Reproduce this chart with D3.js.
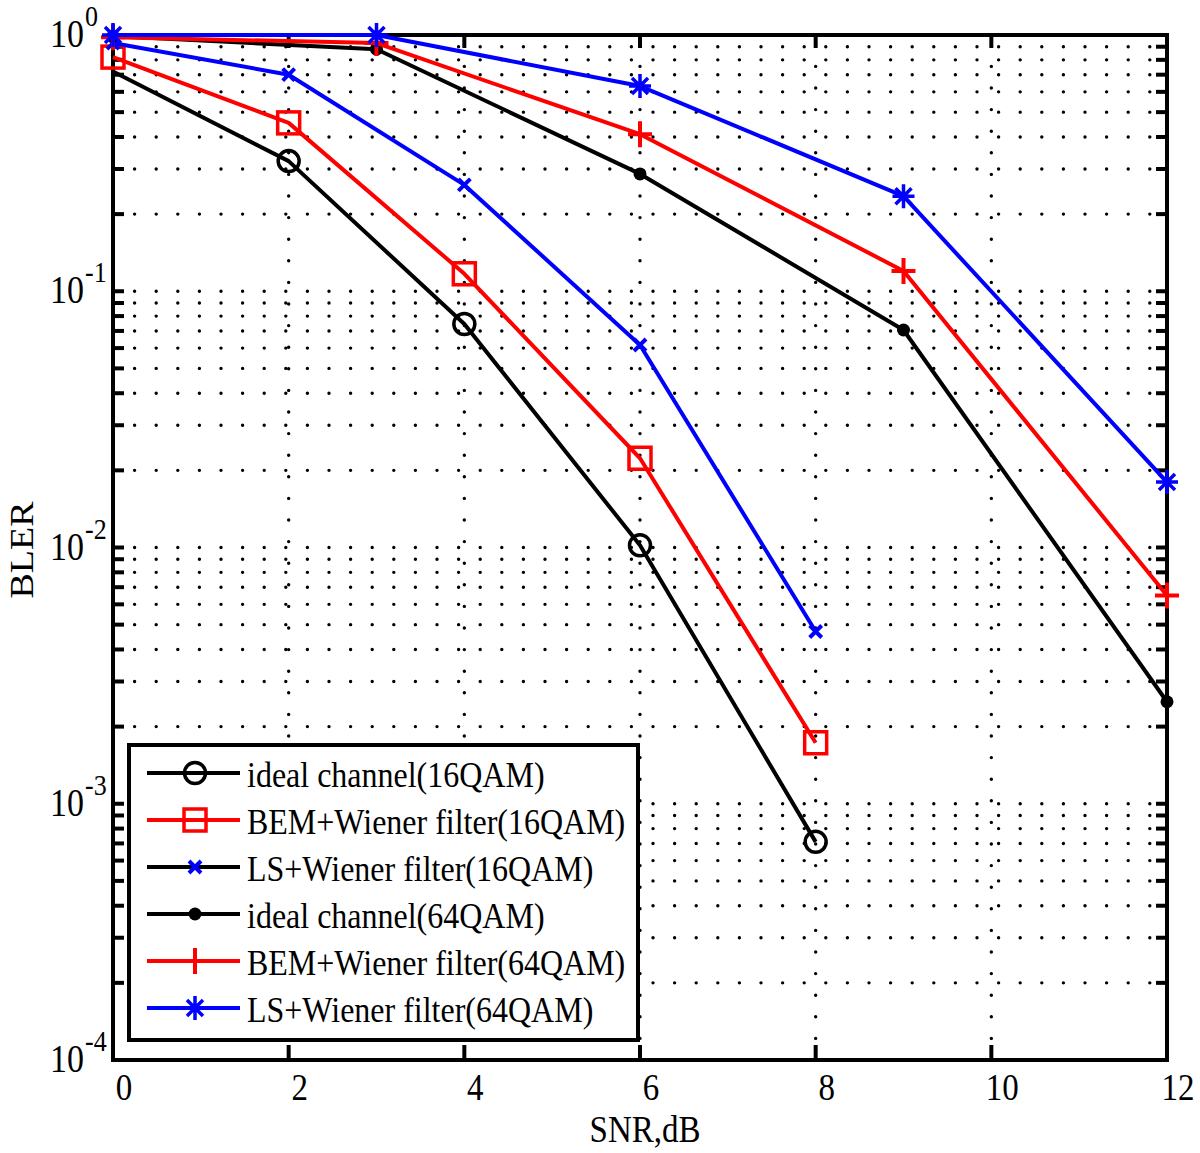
<!DOCTYPE html>
<html>
<head>
<meta charset="utf-8">
<script src="https://cdn.jsdelivr.net/npm/d3@7"></script>
<style>
  html, body { margin: 0; padding: 0; background: #fff; }
  svg { display: block; }
  text { font-family: 'Liberation Serif', 'Times New Roman', serif; fill: #000; }
</style>
</head>
<body>
<svg id="chart" width="1200" height="1153"></svg>
<script>
'use strict';

// data
var snr16 = [0, 2, 4, 6, 8];
var snr64 = [0, 3, 6, 9, 12];
var ideal16 = [0.72, 0.322, 0.0745, 0.0102, 0.00071];
var bem16 = [0.82, 0.454, 0.117, 0.0223, 0.00173];
var ls16 = [0.93, 0.70, 0.26, 0.0617, 0.0047];
var ideal64 = [0.99, 0.88, 0.287, 0.0706, 0.0025];
var bem64 = [0.98, 0.93, 0.41, 0.12, 0.0065];
var ls64 = [1.0, 1.0, 0.632, 0.235, 0.018];
var xTicks = [0, 2, 4, 6, 8, 10, 12];
var yExponents = [0, -1, -2, -3, -4];
var names = ['ideal channel(16QAM)', 'BEM+Wiener filter(16QAM)', 'LS+Wiener filter(16QAM)',
             'ideal channel(64QAM)', 'BEM+Wiener filter(64QAM)', 'LS+Wiener filter(64QAM)'];

var MARGIN = { LEFT: 113, RIGHT: 1167, TOP: 35, BOTTOM: 1060 };
var SY = 1.15;   // glyphs in the picture are a bit taller than wide
var FONT = 33;

var series = [
    { name: names[0], x: snr16, y: ideal16, color: '#000', marker: 'circle', firstMarker: 1 },
    { name: names[1], x: snr16, y: bem16, color: '#f00', marker: 'square' },
    { name: names[2], x: snr16, y: ls16, color: '#00f', marker: 'x', legendLine: '#000' },
    { name: names[3], x: snr64, y: ideal64, color: '#000', marker: 'dot' },
    { name: names[4], x: snr64, y: bem64, color: '#f00', marker: 'plus' },
    { name: names[5], x: snr64, y: ls64, color: '#00f', marker: 'star' }
];

var x = d3.scaleLinear().domain([0, 12]).range([MARGIN.LEFT, MARGIN.RIGHT]);
var y = d3.scaleLog().domain([1e-4, 1]).range([MARGIN.BOTTOM, MARGIN.TOP]);

var svg = d3.select('#chart');

function stext(g, px, py, str, size, anchor) {
    return g.append('text')
        .attr('transform', 'translate(' + px + ',' + py + ') scale(1,' + SY + ')')
        .style('font-size', size + 'px')
        .style('text-anchor', anchor || 'start')
        .text(str);
}

// minor + major log ticks
var yAll = [];
yExponents.forEach(function (e) {
    if (e === -4) { yAll.push(1e-4); return; }
    for (var k = 1; k <= 9; k++) yAll.push(k * Math.pow(10, e - 1));
});
yAll.push(1);
yAll = yAll.filter(function (v, i, a) { return a.indexOf(v) === i && v >= 1e-4 && v <= 1; });

// dotted grid
var grid = svg.append('g')
    .attr('stroke', '#000')
    .attr('stroke-width', 3.4)
    .attr('stroke-linecap', 'round')
    .attr('stroke-dasharray', '0 21.6');

grid.selectAll('line.h')
    .data(yAll.filter(function (v) { return v > 1e-4 && v < 1; }))
    .enter()
    .append('line')
    .attr('x1', MARGIN.LEFT).attr('x2', MARGIN.RIGHT)
    .attr('y1', function (d) { return y(d); })
    .attr('y2', function (d) { return y(d); });

grid.selectAll('line.v')
    .data(xTicks.filter(function (v) { return v > 0 && v < 12; }))
    .enter()
    .append('line')
    .attr('y1', MARGIN.BOTTOM).attr('y2', MARGIN.TOP)
    .attr('x1', function (d) { return x(d); })
    .attr('x2', function (d) { return x(d); });

// axes box and ticks
var axes = svg.append('g').attr('stroke', '#000').attr('stroke-width', 4);

axes.append('rect')
    .attr('x', MARGIN.LEFT).attr('y', MARGIN.TOP)
    .attr('width', MARGIN.RIGHT - MARGIN.LEFT)
    .attr('height', MARGIN.BOTTOM - MARGIN.TOP)
    .attr('fill', 'none');

yAll.forEach(function (v) {
    axes.append('line')
        .attr('x1', MARGIN.LEFT).attr('x2', MARGIN.LEFT + 11)
        .attr('y1', y(v)).attr('y2', y(v));
    axes.append('line')
        .attr('x1', MARGIN.RIGHT).attr('x2', MARGIN.RIGHT - 11)
        .attr('y1', y(v)).attr('y2', y(v));
});

xTicks.forEach(function (v) {
    axes.append('line')
        .attr('x1', x(v)).attr('x2', x(v))
        .attr('y1', MARGIN.BOTTOM).attr('y2', MARGIN.BOTTOM - 15);
    axes.append('line')
        .attr('x1', x(v)).attr('x2', x(v))
        .attr('y1', MARGIN.TOP).attr('y2', MARGIN.TOP + 13);
});

// tick labels
var labels = svg.append('g');
xTicks.forEach(function (v) {
    stext(labels, x(v) + 11, 1100, String(v), FONT, 'middle');
});
yExponents.forEach(function (e) {
    var py = y(Math.pow(10, e));
    stext(labels, 84, py + 12, '10', 34, 'end');
    stext(labels, 85, py - 9, String(e), 26, 'start');
});

stext(labels, 645, 1142, 'SNR,dB', FONT, 'middle');
labels.append('text')
    .attr('transform', 'translate(33,550) rotate(-90) scale(' + SY + ',1)')
    .style('font-size', FONT + 'px')
    .style('text-anchor', 'middle')
    .text('BLER');

// markers
function drawMarker(g, type, color) {
    if (type === 'circle') {
        g.append('circle').attr('r', 10.5).attr('fill', 'none')
            .attr('stroke', color).attr('stroke-width', 3.5);
    } else if (type === 'square') {
        g.append('rect').attr('x', -11).attr('y', -11).attr('width', 22).attr('height', 22)
            .attr('fill', 'none').attr('stroke', color).attr('stroke-width', 3.5);
    } else if (type === 'x') {
        g.append('path').attr('d', 'M-6,-6L6,6M-6,6L6,-6')
            .attr('stroke', color).attr('stroke-width', 4);
    } else if (type === 'dot') {
        g.append('circle').attr('r', 6.5).attr('fill', color);
    } else if (type === 'plus') {
        g.append('path').attr('d', 'M-12,0H12M0,-13V13')
            .attr('stroke', color).attr('stroke-width', 4);
    } else if (type === 'star') {
        g.append('path').attr('d', 'M-11,0H11M0,-12V12M-8,-8L8,8M-8,8L8,-8')
            .attr('stroke', color).attr('stroke-width', 3.5);
    }
}

var line = d3.line()
    .x(function (d) { return x(d[0]); })
    .y(function (d) { return y(d[1]); });

var plot = svg.append('g');
series.forEach(function (s) {
    var pts = s.x.map(function (v, i) { return [v, s.y[i]]; });
    var g = plot.append('g');
    g.append('path')
        .attr('d', line(pts))
        .attr('fill', 'none')
        .attr('stroke', s.color)
        .attr('stroke-width', 4)
        .attr('stroke-linejoin', 'round');
    pts.forEach(function (p, i) {
        if (i < (s.firstMarker || 0)) return;
        var m = g.append('g').attr('transform', 'translate(' + x(p[0]) + ',' + y(p[1]) + ')');
        drawMarker(m, s.marker, s.color);
    });
});

// legend
var LEG = { X: 129, Y: 745, W: 509, H: 295, ROW0: 773, STEP: 47 };
var legend = svg.append('g');
legend.append('rect')
    .attr('x', LEG.X).attr('y', LEG.Y)
    .attr('width', LEG.W).attr('height', LEG.H)
    .attr('fill', '#fff').attr('stroke', '#000').attr('stroke-width', 4);

series.forEach(function (s, i) {
    var cy = LEG.ROW0 + i * LEG.STEP;
    legend.append('line')
        .attr('x1', 147).attr('x2', 240)
        .attr('y1', cy).attr('y2', cy)
        .attr('stroke', s.legendLine || s.color)
        .attr('stroke-width', 4);
    var m = legend.append('g').attr('transform', 'translate(195,' + cy + ')');
    drawMarker(m, s.marker, s.color);
    stext(legend, 247, cy + 14, s.name, 32, 'start');
});
</script>
</body>
</html>
